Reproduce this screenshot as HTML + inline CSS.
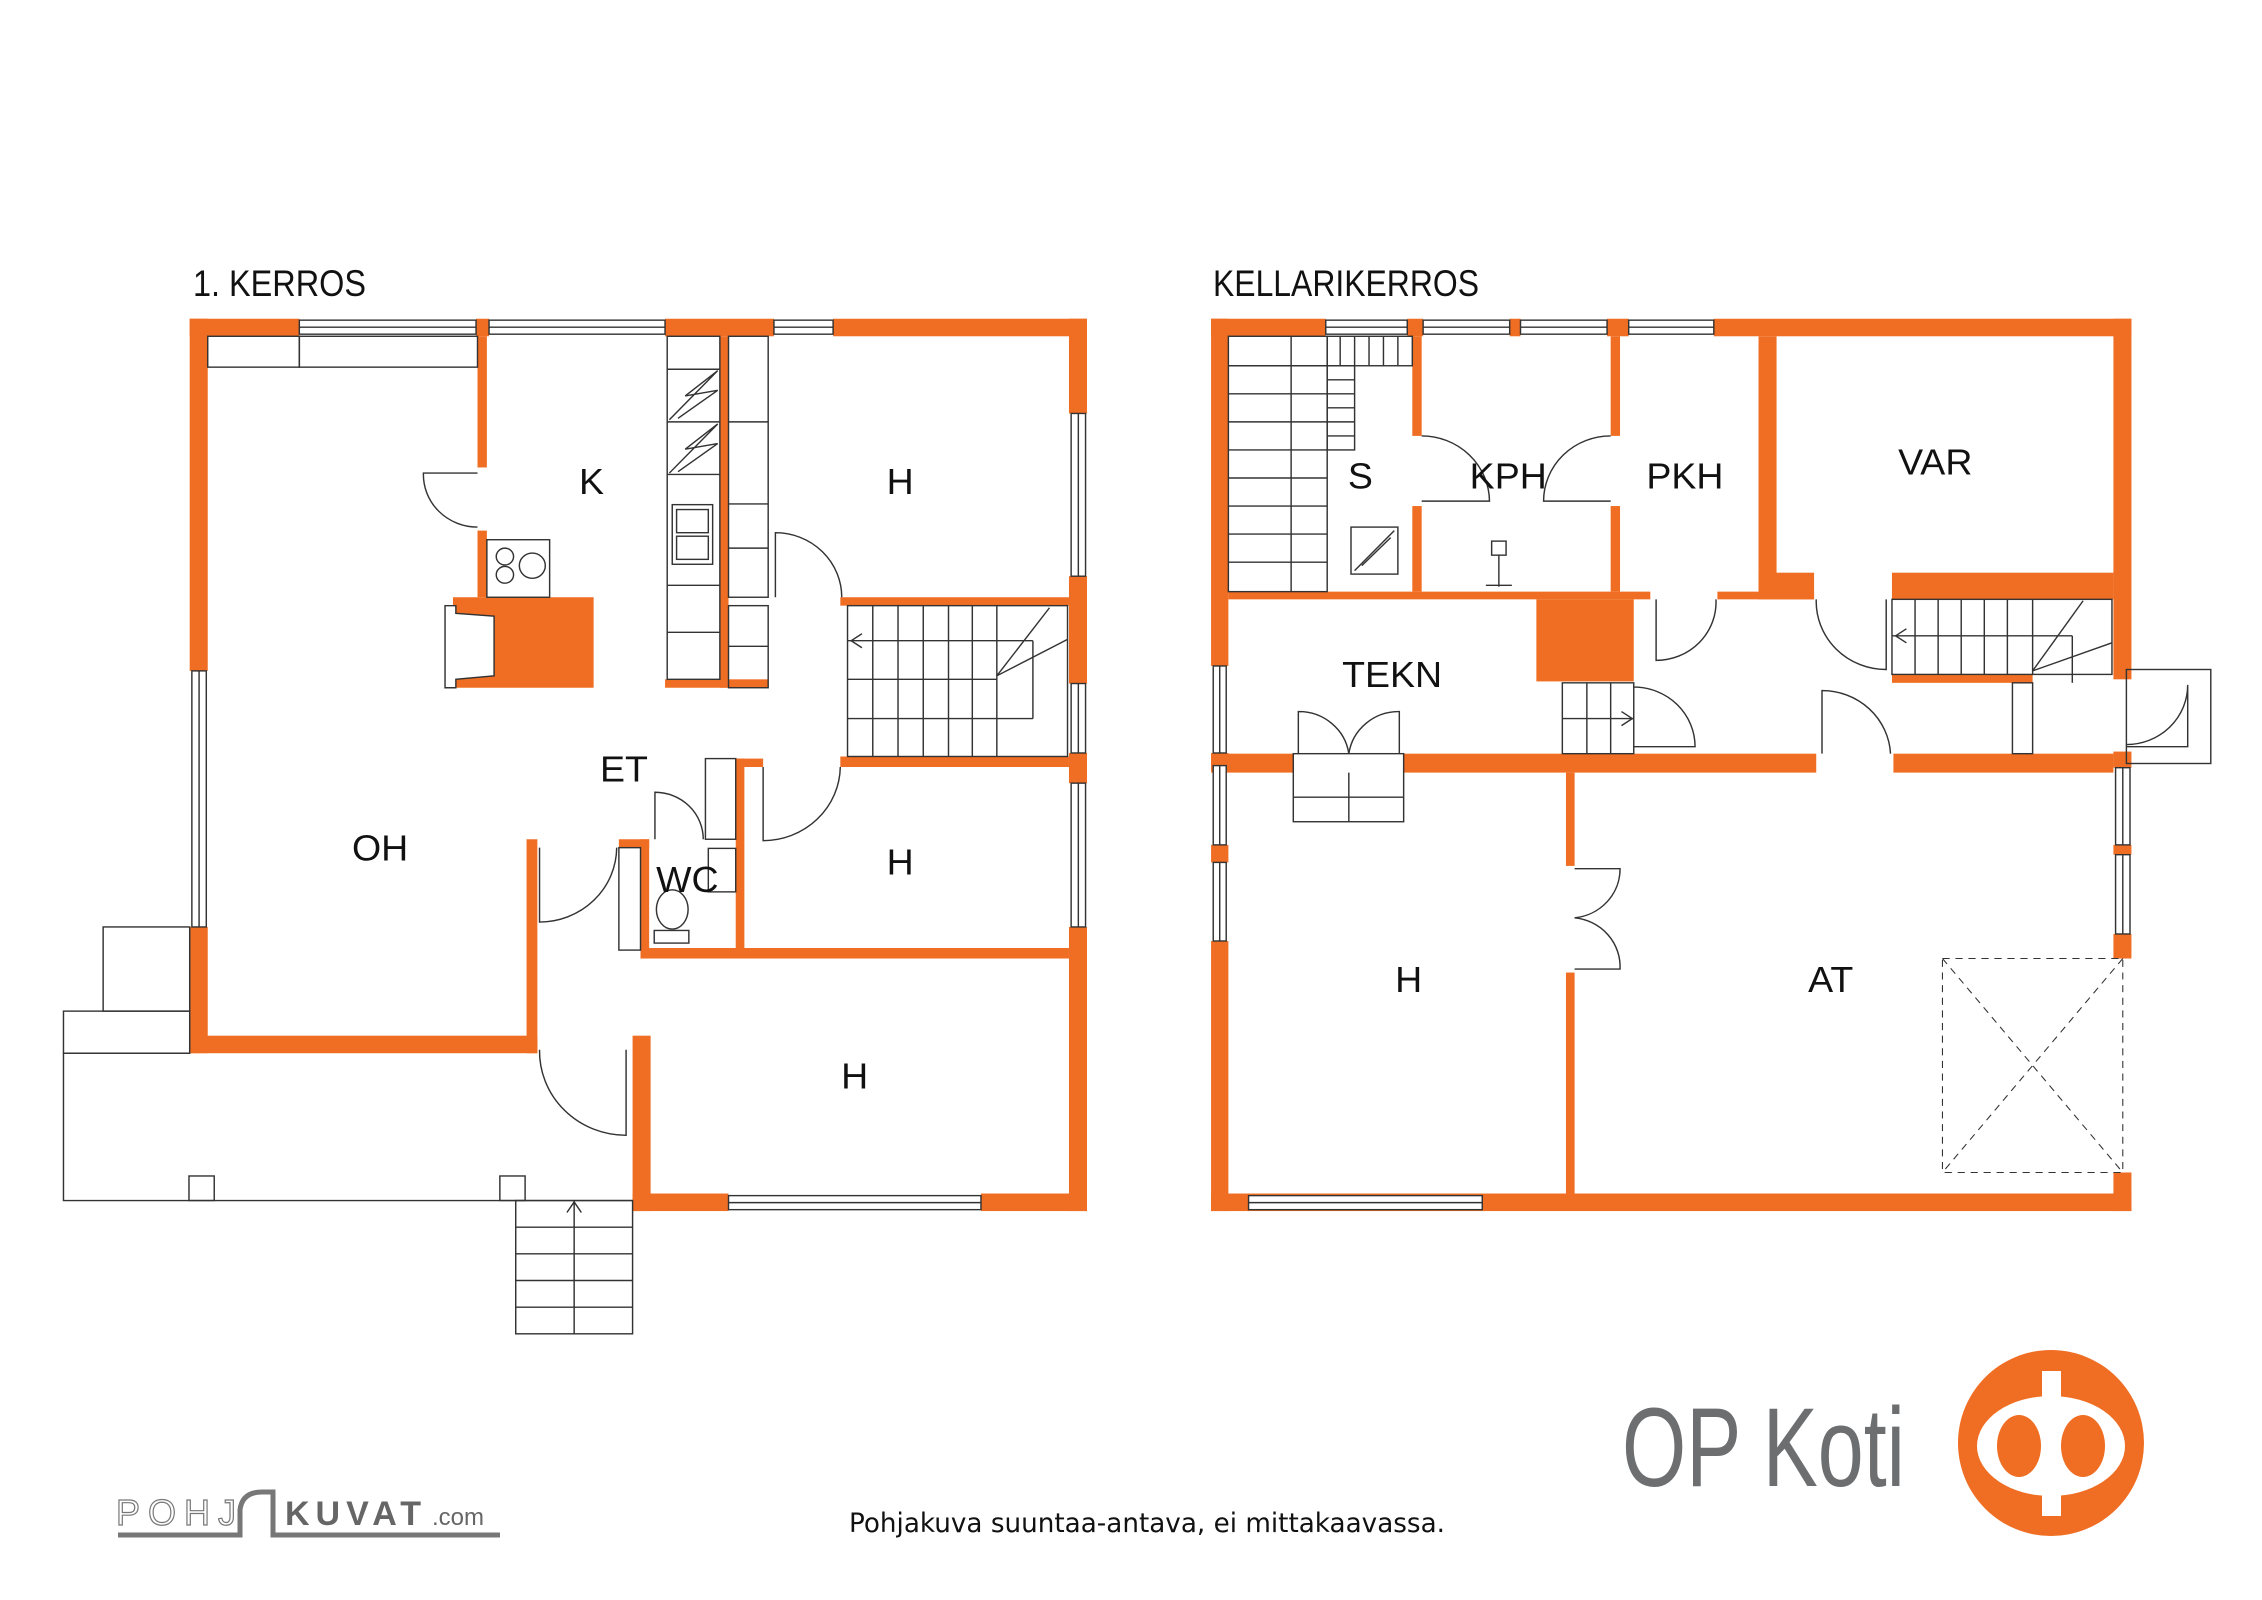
<!DOCTYPE html>
<html><head><meta charset="utf-8"><style>
html,body{margin:0;padding:0;background:#fff;}
svg{display:block}
</style></head><body>
<svg width="2262" height="1600" viewBox="0 0 2262 1600" xmlns="http://www.w3.org/2000/svg">
<rect width="2262" height="1600" fill="#fff"/>
<text x="193" y="296" font-family="Liberation Sans, sans-serif" font-size="37" fill="#111" textLength="173" lengthAdjust="spacingAndGlyphs">1. KERROS</text>
<text x="1213" y="296" font-family="Liberation Sans, sans-serif" font-size="37" fill="#111" textLength="266" lengthAdjust="spacingAndGlyphs">KELLARIKERROS</text>

<!-- FIRST FLOOR -->
<g transform="translate(0,250) scale(0.7213,0.7015)">
<g fill="#f06e23">
<rect x="263" y="98" width="152" height="25"/><rect x="660" y="98" width="18" height="25"/><rect x="922" y="98" width="151" height="25"/><rect x="1155" y="98" width="352" height="25"/>
<rect x="263" y="98" width="25" height="502"/><rect x="263" y="965" width="25" height="180"/>
<rect x="263" y="1120" width="482" height="25"/><rect x="730" y="840" width="15" height="305"/>
<rect x="1482" y="98" width="25" height="135"/><rect x="1482" y="465" width="25" height="153"/><rect x="1482" y="717" width="25" height="43"/><rect x="1482" y="965" width="25" height="405"/>
<rect x="877" y="1345" width="133" height="25"/><rect x="1360" y="1345" width="147" height="25"/>
<rect x="877" y="1120" width="25" height="250"/>
<rect x="662" y="123" width="13" height="187"/><rect x="662" y="400" width="13" height="95"/>
<rect x="628" y="495" width="195" height="129"/>
<rect x="998" y="123" width="12" height="501"/><rect x="922" y="612" width="143" height="12"/>
<rect x="1165" y="495" width="317" height="12"/>
<rect x="1165" y="722" width="317" height="15"/><rect x="1020" y="725" width="38" height="12"/>
<rect x="1020" y="725" width="12" height="275"/>
<rect x="888" y="995" width="594" height="15"/>
<rect x="888" y="840" width="12" height="170"/><rect x="858" y="840" width="42" height="12"/>
</g>
<g fill="#fff" stroke="#333" stroke-width="2">
<polygon points="617,507 632,507 632,518 685,522 685,607 632,612 632,624 617,624"/>
<rect x="415" y="100" width="245" height="20"/><rect x="678" y="100" width="244" height="20"/><rect x="1073" y="100" width="82" height="20"/>
<rect x="266" y="600" width="20" height="365"/>
<rect x="1485" y="233" width="20" height="232"/><rect x="1485" y="618" width="20" height="99"/><rect x="1485" y="760" width="20" height="205"/>
<rect x="1010" y="1348" width="350" height="20"/>
</g>
<g fill="none" stroke="#333" stroke-width="2">
<line x1="415" y1="110" x2="660" y2="110"/><line x1="678" y1="110" x2="922" y2="110"/><line x1="1073" y1="110" x2="1155" y2="110"/>
<line x1="276" y1="600" x2="276" y2="965"/><line x1="1495" y1="233" x2="1495" y2="465"/><line x1="1495" y1="618" x2="1495" y2="717"/><line x1="1495" y1="760" x2="1495" y2="965"/>
<line x1="1010" y1="1358" x2="1360" y2="1358"/>
<rect x="288" y="123" width="127" height="44"/><rect x="415" y="123" width="247" height="44"/>
<rect x="675" y="413" width="87" height="82"/><circle cx="700" cy="437" r="12"/><circle cx="700" cy="463" r="12"/><circle cx="738" cy="450" r="18"/>
<rect x="925" y="123" width="73" height="489"/><line x1="925" y1="170" x2="998" y2="170"/><line x1="925" y1="245" x2="998" y2="245"/><line x1="925" y1="320" x2="998" y2="320"/><line x1="925" y1="478" x2="998" y2="478"/><line x1="925" y1="545" x2="998" y2="545"/>
<polyline points="928,242 995,172 950,208 995,200 940,240"/><polyline points="928,318 995,248 950,284 995,276 940,316"/>
<rect x="932" y="363" width="56" height="85"/><rect x="938" y="370" width="44" height="33"/><rect x="938" y="408" width="44" height="33"/>
<rect x="1010" y="123" width="55" height="372"/><line x1="1010" y1="245" x2="1065" y2="245"/><line x1="1010" y1="362" x2="1065" y2="362"/><line x1="1010" y1="425" x2="1065" y2="425"/>
<rect x="1010" y="507" width="55" height="117"/><line x1="1010" y1="565" x2="1065" y2="565"/>
<rect x="1175" y="507" width="305" height="215"/>
<line x1="1210" y1="507" x2="1210" y2="722"/><line x1="1245" y1="507" x2="1245" y2="722"/><line x1="1280" y1="507" x2="1280" y2="722"/><line x1="1315" y1="507" x2="1315" y2="722"/><line x1="1348" y1="507" x2="1348" y2="722"/><line x1="1382" y1="507" x2="1382" y2="722"/>
<line x1="1175" y1="612" x2="1382" y2="612"/><line x1="1175" y1="668" x2="1432" y2="668"/><line x1="1175" y1="557" x2="1432" y2="557"/><line x1="1432" y1="557" x2="1432" y2="668"/>
<line x1="1382" y1="607" x2="1455" y2="510"/><line x1="1382" y1="607" x2="1480" y2="555"/>
<polyline points="1195,547 1180,557 1195,567"/>
<path d="M662,318 L587,318 A75,75 0 0 0 662,395"/>
<path d="M1075,495 L1075,403 A92,92 0 0 1 1167,495"/>
<path d="M1058,737 L1058,842 A107,107 0 0 0 1165,737"/>
<path d="M908,840 L908,773 A67,67 0 0 1 975,840"/>
<path d="M748,852 L748,958 A107,107 0 0 0 855,852"/>
<path d="M868,1140 L868,1262 A120,120 0 0 1 748,1140"/>
<rect x="858" y="852" width="30" height="146"/><rect x="978" y="725" width="42" height="115"/>
<ellipse cx="932" cy="940" rx="22" ry="28"/><rect x="907" y="970" width="48" height="18"/><rect x="982" y="853" width="38" height="62"/>
<polyline points="263,1145 88,1145 88,1355 877,1355"/><rect x="88" y="1085" width="175" height="60"/><rect x="143" y="965" width="120" height="120"/>
<rect x="262" y="1320" width="35" height="35"/><rect x="693" y="1320" width="35" height="35"/>
<rect x="715" y="1355" width="162" height="190"/><line x1="796" y1="1355" x2="796" y2="1545"/>
<line x1="715" y1="1393" x2="877" y2="1393"/><line x1="715" y1="1431" x2="877" y2="1431"/><line x1="715" y1="1469" x2="877" y2="1469"/><line x1="715" y1="1507" x2="877" y2="1507"/>
<polyline points="786,1372 796,1357 806,1372"/>
</g>
<g font-family="Liberation Sans, sans-serif" font-size="52" fill="#111" text-anchor="middle">
<text x="820" y="348">K</text><text x="1248" y="348">H</text><text x="865" y="758">ET</text><text x="527" y="870">OH</text><text x="953" y="915">WC</text><text x="1248" y="890">H</text><text x="1185" y="1195">H</text>
</g>
</g>

<!-- BASEMENT -->
<g transform="translate(1131,250) scale(0.7213,0.7015)">
<g fill="#f06e23">
<rect x="111" y="98" width="159" height="25"/><rect x="383" y="98" width="22" height="25"/><rect x="525" y="98" width="15" height="25"/><rect x="660" y="98" width="30" height="25"/><rect x="808" y="98" width="579" height="25"/>
<rect x="111" y="98" width="24" height="495"/><rect x="111" y="717" width="24" height="18"/><rect x="111" y="848" width="24" height="25"/><rect x="111" y="985" width="24" height="385"/>
<rect x="1362" y="98" width="25" height="514"/><rect x="1362" y="715" width="25" height="23"/><rect x="1362" y="848" width="25" height="14"/><rect x="1362" y="975" width="25" height="35"/><rect x="1362" y="1315" width="25" height="55"/>
<rect x="111" y="1345" width="1276" height="25"/>
<rect x="390" y="123" width="13" height="142"/><rect x="390" y="365" width="13" height="122"/>
<rect x="665" y="123" width="13" height="142"/><rect x="665" y="365" width="13" height="122"/>
<rect x="870" y="123" width="25" height="364"/><rect x="870" y="460" width="77" height="38"/>
<rect x="1055" y="460" width="307" height="38"/>
<rect x="135" y="487" width="585" height="11"/><rect x="813" y="487" width="134" height="11"/>
<rect x="562" y="498" width="135" height="117"/>
<rect x="111" y="718" width="114" height="27"/><rect x="378" y="718" width="572" height="27"/><rect x="1057" y="718" width="305" height="27"/>
<rect x="603" y="745" width="12" height="133"/><rect x="603" y="1030" width="12" height="315"/>
<rect x="1055" y="605" width="195" height="12"/>
</g>
<g fill="#fff" stroke="#333" stroke-width="2">
<rect x="270" y="100" width="113" height="20"/><rect x="405" y="100" width="120" height="20"/><rect x="540" y="100" width="120" height="20"/><rect x="690" y="100" width="118" height="20"/>
<rect x="114" y="593" width="18" height="124"/><rect x="114" y="735" width="18" height="113"/><rect x="114" y="873" width="18" height="112"/>
<rect x="1365" y="738" width="20" height="110"/><rect x="1365" y="862" width="20" height="113"/>
<rect x="163" y="1348" width="324" height="20"/>
</g>
<g fill="none" stroke="#333" stroke-width="2">
<line x1="270" y1="110" x2="383" y2="110"/><line x1="405" y1="110" x2="525" y2="110"/><line x1="540" y1="110" x2="660" y2="110"/><line x1="690" y1="110" x2="808" y2="110"/>
<line x1="123" y1="593" x2="123" y2="717"/><line x1="123" y1="735" x2="123" y2="848"/><line x1="123" y1="873" x2="123" y2="985"/>
<line x1="1375" y1="738" x2="1375" y2="848"/><line x1="1375" y1="862" x2="1375" y2="975"/><line x1="163" y1="1358" x2="487" y2="1358"/>
<rect x="135" y="123" width="137" height="364"/><line x1="222" y1="123" x2="222" y2="487"/>
<line x1="135" y1="165" x2="272" y2="165"/><line x1="135" y1="205" x2="272" y2="205"/><line x1="135" y1="245" x2="272" y2="245"/><line x1="135" y1="285" x2="272" y2="285"/><line x1="135" y1="325" x2="272" y2="325"/><line x1="135" y1="365" x2="272" y2="365"/><line x1="135" y1="405" x2="272" y2="405"/><line x1="135" y1="445" x2="272" y2="445"/>
<rect x="272" y="123" width="118" height="42"/><line x1="290" y1="123" x2="290" y2="165"/><line x1="310" y1="123" x2="310" y2="165"/><line x1="330" y1="123" x2="330" y2="165"/><line x1="350" y1="123" x2="350" y2="165"/><line x1="370" y1="123" x2="370" y2="165"/>
<rect x="272" y="165" width="38" height="120"/><line x1="272" y1="185" x2="310" y2="185"/><line x1="272" y1="205" x2="310" y2="205"/><line x1="272" y1="225" x2="310" y2="225"/><line x1="272" y1="245" x2="310" y2="245"/><line x1="272" y1="265" x2="310" y2="265"/>
<rect x="305" y="395" width="65" height="67"/><line x1="310" y1="457" x2="365" y2="400"/><line x1="320" y1="450" x2="360" y2="410"/>
<rect x="500" y="415" width="20" height="20"/><line x1="510" y1="435" x2="510" y2="480"/><line x1="492" y1="478" x2="528" y2="478"/>
<path d="M403,358 L497,358 A94,94 0 0 0 403,265"/>
<path d="M665,358 L572,358 A93,93 0 0 1 665,265"/>
<path d="M728,498 L728,585 A83,83 0 0 0 811,498"/>
<path d="M1047,498 L1047,598 A97,97 0 0 1 950,498"/>
<path d="M958,718 L958,628 A95,95 0 0 1 1053,718"/>
<path d="M697,708 L782,708 A85,85 0 0 0 697,623"/>
<path d="M1380,708 L1465,708 L1465,620 A85,85 0 0 1 1380,705"/>
<rect x="1380" y="598" width="117" height="134"/>
<path d="M232,718 L232,658 A70,70 0 0 1 302,718"/><path d="M372,718 L372,658 A70,70 0 0 0 302,718"/>
<path d="M615,882 L678,882 A70,70 0 0 1 615,952"/><path d="M615,1025 L678,1025 A70,70 0 0 0 615,952"/>
<rect x="225" y="718" width="153" height="97"/><line x1="302" y1="745" x2="302" y2="815"/><line x1="225" y1="780" x2="378" y2="780"/>
<rect x="598" y="617" width="99" height="101"/><line x1="632" y1="617" x2="632" y2="718"/><line x1="665" y1="617" x2="665" y2="718"/><line x1="598" y1="668" x2="697" y2="668"/>
<rect x="1055" y="498" width="305" height="107"/>
<line x1="1087" y1="498" x2="1087" y2="605"/><line x1="1119" y1="498" x2="1119" y2="605"/><line x1="1151" y1="498" x2="1151" y2="605"/><line x1="1183" y1="498" x2="1183" y2="605"/><line x1="1215" y1="498" x2="1215" y2="605"/><line x1="1250" y1="498" x2="1250" y2="605"/>
<line x1="1055" y1="550" x2="1305" y2="550"/><line x1="1305" y1="550" x2="1305" y2="617"/><line x1="1250" y1="600" x2="1320" y2="500"/><line x1="1250" y1="600" x2="1360" y2="560"/>
<polyline points="1075,540 1060,550 1075,560"/><polyline points="680,658 695,668 680,678"/>
<rect x="1222" y="617" width="28" height="101"/>
<g stroke-dasharray="10,8" stroke-width="1.5"><rect x="1125" y="1010" width="250" height="305"/><line x1="1125" y1="1010" x2="1375" y2="1315"/><line x1="1375" y1="1010" x2="1125" y2="1315"/></g>
</g>
<g font-family="Liberation Sans, sans-serif" font-size="52" fill="#111" text-anchor="middle">
<text x="318" y="340">S</text><text x="523" y="340">KPH</text><text x="768" y="340">PKH</text><text x="1115" y="320">VAR</text><text x="362" y="623">TEKN</text><text x="385" y="1058">H</text><text x="970" y="1058">AT</text>
</g>
</g>

<!-- footer -->
<text x="1622" y="1486" font-family="Liberation Sans, sans-serif" font-size="112" fill="#6d6e70" textLength="283" lengthAdjust="spacingAndGlyphs">OP Koti</text>
<circle cx="2051" cy="1443" r="93" fill="#f06e23"/>
<ellipse cx="2051" cy="1446" rx="74" ry="50" fill="#fff"/>
<ellipse cx="2019" cy="1446" rx="22" ry="31" fill="#f06e23"/>
<ellipse cx="2083" cy="1446" rx="22" ry="31" fill="#f06e23"/>
<rect x="2042" y="1371" width="19" height="145" fill="#fff"/>
<text x="849" y="1532" font-family="DejaVu Sans, sans-serif" font-size="27" fill="#111" textLength="596" lengthAdjust="spacingAndGlyphs">Pohjakuva suuntaa-antava, ei mittakaavassa.</text>
<text x="116" y="1525" font-family="Liberation Sans, sans-serif" font-size="36" fill="#fff" stroke="#777" stroke-width="1.2" letter-spacing="8">POHJ</text>
<path d="M118,1535 L240,1535 L240,1510 Q242,1492 262,1492 L273,1492 L273,1535 L500,1535" fill="none" stroke="#777" stroke-width="5"/>
<text x="285" y="1525" font-family="Liberation Sans, sans-serif" font-size="34" font-weight="bold" fill="#666" letter-spacing="6">KUVAT</text>
<text x="432" y="1525" font-family="Liberation Sans, sans-serif" font-size="24" fill="#666">.com</text>
</svg>
</body></html>
